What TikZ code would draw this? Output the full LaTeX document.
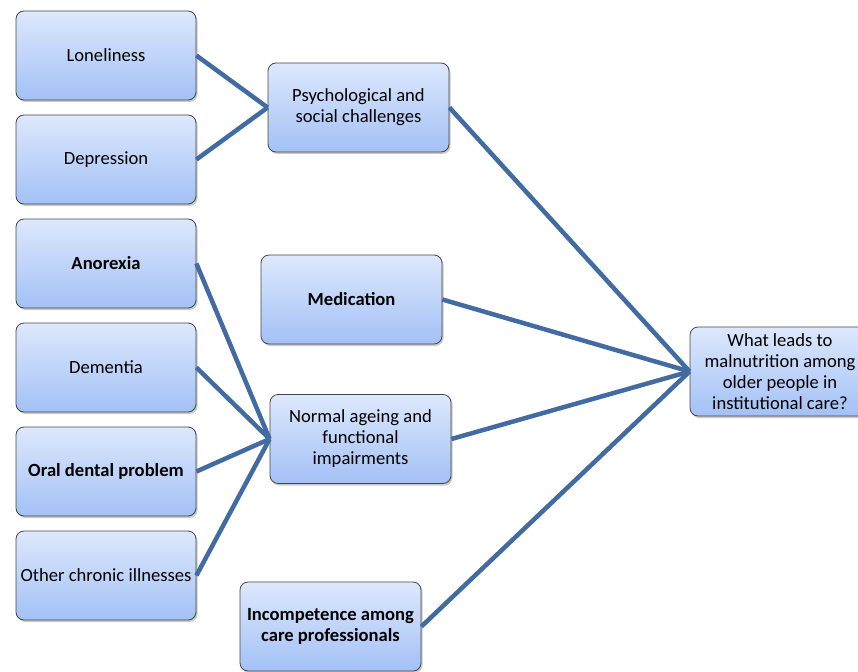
\documentclass[tikz,border=0pt]{standalone}
\usepackage{fontspec}
\setmainfont{Carlito}
\usetikzlibrary{shadows}
\definecolor{boxtop}{RGB}{221,232,252}
\definecolor{boxbot}{RGB}{163,193,246}
\definecolor{boxline}{RGB}{70,70,70}
\definecolor{conn}{RGB}{66,107,161}
\tikzset{
  box/.style={rectangle, rounded corners=8pt, draw=boxline, line width=0.8pt,
    top color=boxtop, bottom color=boxbot, minimum width=180pt, minimum height=89pt,
    align=center, font=\fontsize{18.6}{21}\selectfont, inner sep=2pt,
    drop shadow={shadow xshift=1.5pt, shadow yshift=-2pt, opacity=0.35, fill=black!60}},
  bbox/.style={box, font=\fontsize{18.6}{21}\selectfont\bfseries},
  link/.style={draw=conn, line width=4.5pt}
}
\begin{document}
\begin{tikzpicture}[x=1pt,y=-1pt]
\useasboundingbox (0,0) rectangle (858,671);
\clip (0,0) rectangle (858,671);
\node[box] (lon) at (106,55.5) {Loneliness};
\node[box] (dep) at (106,159.5) {Depression};
\node[bbox] (ano) at (106,263.5) {Anorexia};
\node[box] (dem) at (106,367.5) {Dementia};
\node[bbox] (ora) at (106,471.5) {Oral dental problem};
\node[box] (oth) at (106,575.5) {Other chronic illnesses};
\node[box, minimum width=181pt] (psy) at (358.5,107.5) {Psychological and\\social challenges};
\node[bbox, minimum width=181pt] (med) at (351.5,299.5) {Medication};
\node[box, minimum width=181pt] (nor) at (360.5,439) {Normal ageing and\\functional\\impairments};
\node[bbox, minimum width=181pt] (inc) at (330.5,626.5) {Incompetence among\\care professionals};
\node[box] (wha) at (780,371.5) {What leads to\\malnutrition among\\older people in\\institutional care?};
\draw[link] (lon.east) -- (psy.west);
\draw[link] (dep.east) -- (psy.west);
\draw[link] (ano.east) -- (nor.west);
\draw[link] (dem.east) -- (nor.west);
\draw[link] (ora.east) -- (nor.west);
\draw[link] (oth.east) -- (nor.west);
\draw[link] (psy.east) -- (wha.west);
\draw[link] (med.east) -- (wha.west);
\draw[link] (nor.east) -- (wha.west);
\draw[link] (inc.east) -- (wha.west);
\end{tikzpicture}
\end{document}
